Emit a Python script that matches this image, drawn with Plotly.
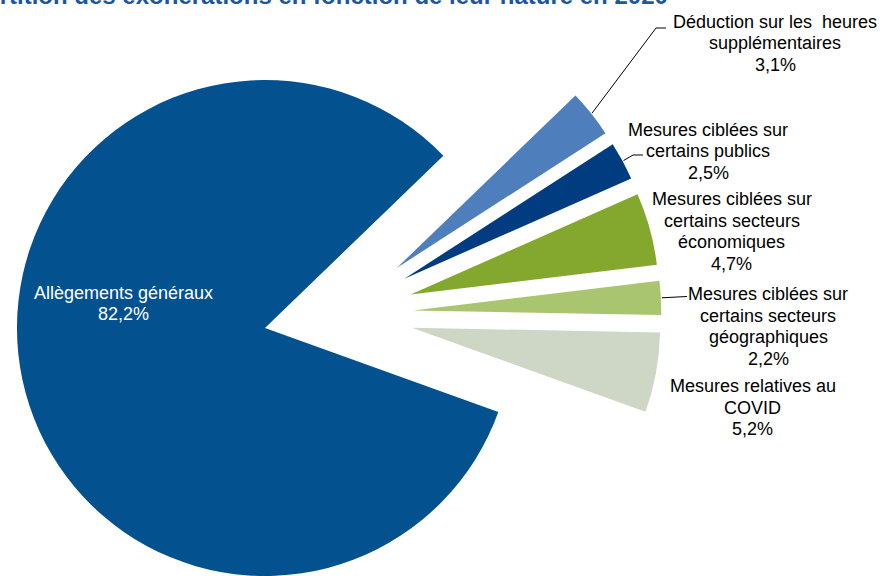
import math
import plotly.graph_objects as go

# Exemption breakdown by type, 2020 (% of total)
categories = [
    "Déduction sur les heures supplémentaires",
    "Mesures ciblées sur certains publics",
    "Mesures ciblées sur certains secteurs économiques",
    "Mesures ciblées sur certains secteurs géographiques",
    "Mesures relatives au COVID",
    "Allègements généraux",
]
values = [3.1, 2.5, 4.7, 2.2, 5.2, 82.2]
label_lines = [
    ["Déduction sur les\u00a0 heures", "supplémentaires"],
    ["Mesures ciblées sur", "certains publics"],
    ["Mesures ciblées sur", "certains secteurs", "économiques"],
    ["Mesures ciblées sur", "certains secteurs", "géographiques"],
    ["Mesures relatives au", "COVID"],
    ["Allègements généraux"],
]
colors = ["#4F7EBD", "#023C80", "#84A82D", "#AAC56F", "#CED6C5", "#03518E"]
title = "Répartition des exonérations en fonction de leur nature en 2020"

# ---- geometry (pixels) ----
W, H = 880, 576
R = 248            # slice radius
C0 = (338.3, 314.3)  # centre of the pie before exploding
EXPLODE = 75       # explode distance of every slice
START = 44.0       # angle (deg, counter-clockwise from 3 o'clock) where the first slice begins
ROTATION = 90 - START

FONT = "Liberation Sans, Arial, sans-serif"


def fx(x):
    return x / W


def fy(y):
    return 1 - y / H


total = sum(values)
bisectors = []
a = START
for v in values:
    span = 360.0 * v / total
    bisectors.append(a - span / 2)
    a -= span

fig = go.Figure()
centres = []
for i, (cat, v) in enumerate(zip(categories, values)):
    b = math.radians(bisectors[i])
    cx = C0[0] + EXPLODE * math.cos(b)
    cy = C0[1] - EXPLODE * math.sin(b)
    cx = min(max(cx, R), W - R)
    cy = min(max(cy, R), H - R)
    centres.append((cx, cy))
    slice_colors = ["rgba(0,0,0,0)"] * len(values)
    slice_colors[i] = colors[i]
    fig.add_trace(go.Pie(
        labels=categories,
        values=values,
        sort=False,
        direction="clockwise",
        rotation=ROTATION,
        marker=dict(colors=slice_colors, line=dict(width=0)),
        textinfo="none",
        hoverinfo="skip",
        showlegend=False,
        domain=dict(
            x=[max(0, fx(cx - R)), min(1, fx(cx + R))],
            y=[max(0, fy(cy + R)), min(1, fy(cy - R))],
        ),
    ))

# label blocks: centre x and first-line y (pixels)
label_pos = [(775, 21.7), (708, 130), (731.5, 199.3), (768, 294), (752.5, 386), (123.5, 293.3)]
label_color = ["#000000"] * 5 + ["#FFFFFF"]
LINE_STEP = 21.5

annotations = []
for i, v in enumerate(values):
    lines = label_lines[i] + [f"{v:.1f}".replace(".", ",") + "%"]
    x0, y0 = label_pos[i]
    step = LINE_STEP if i < 5 else 20.5
    for k, line in enumerate(lines):
        annotations.append(dict(
            text=line, x=fx(x0), y=fy(y0 + k * step), xref="paper", yref="paper",
            xanchor="center", yanchor="middle", showarrow=False,
            font=dict(family=FONT, size=18, color=label_color[i]),
        ))

annotations.append(dict(
    text="<b>" + title + "</b>", x=fx(-61), y=fy(10.8), xref="paper", yref="paper",
    xanchor="left", yanchor="bottom", showarrow=False,
    font=dict(family=FONT, size=24, color="#1A56A2"),
))

# leader lines: from the outer arc of a slice to its label
leader_bends = {0: [(656, 28), (666, 28)], 1: [(633, 155), (643, 155)], 3: [(687, 296.5)]}
shapes = []
for i, pts in leader_bends.items():
    b = math.radians(bisectors[i])
    cx, cy = centres[i]
    start = (cx + (R + 1) * math.cos(b), cy - (R + 1) * math.sin(b))
    path = [start] + pts
    for p, q in zip(path[:-1], path[1:]):
        shapes.append(dict(
            type="line", xref="paper", yref="paper",
            x0=fx(p[0]), y0=fy(p[1]), x1=fx(q[0]), y1=fy(q[1]),
            line=dict(color="#000000", width=1),
        ))

fig.update_layout(
    width=W, height=H,
    margin=dict(l=0, r=0, t=0, b=0),
    paper_bgcolor="white", plot_bgcolor="white",
    annotations=annotations, shapes=shapes,
    showlegend=False,
)

fig.write_html("out.html")
